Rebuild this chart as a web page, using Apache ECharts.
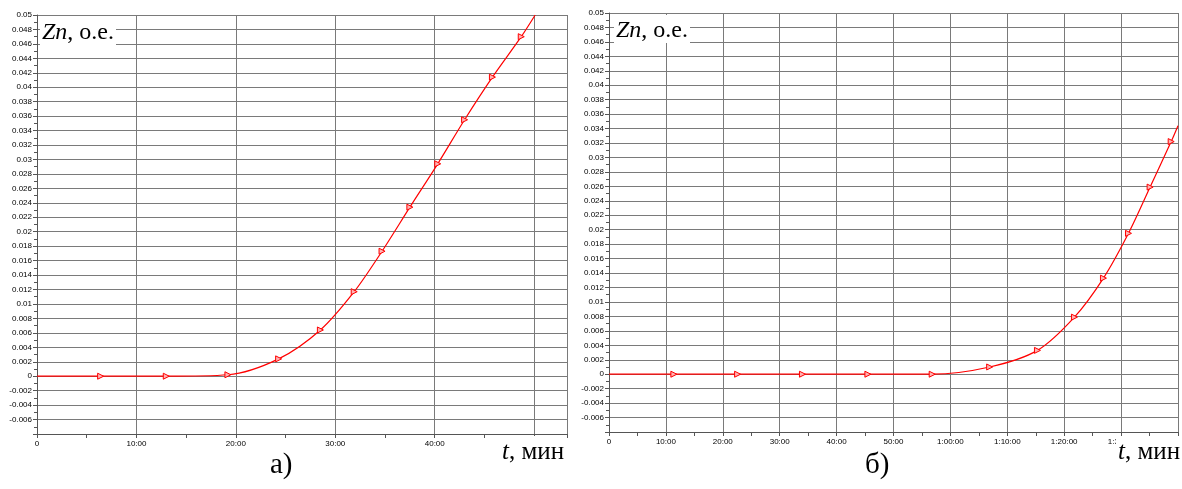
<!DOCTYPE html>
<html>
<head>
<meta charset="utf-8">
<script src="https://cdn.jsdelivr.net/npm/echarts@6/dist/echarts.min.js"></script>
<style>
html,body{margin:0;padding:0;background:#fff;}
#c{width:1182px;height:489px;}
</style>
</head>
<body>
<div id="c"></div>
<script>
// ---- data (minutes, Zn in о.е.) ----
// chart а)
const markT_A = [6.4, 13.0, 19.2, 24.3, 28.5, 31.9, 34.7, 37.5, 40.3, 43.0, 45.8, 48.7];
const markZ_A = [0, 0, 0.0002, 0.0024, 0.0064, 0.0117, 0.0173, 0.0234, 0.0294, 0.0355, 0.0414, 0.047];
const startA = [0, 0];
const endA = [50.1, 0.05];
const xMaxA = 53.3;
// chart б)
const markT_B = [11.4, 22.6, 34.0, 45.5, 56.8, 66.9, 75.3, 81.8, 86.9, 91.3, 95.1, 98.8];
const markZ_B = [0, 0, 0, 0, 0, 0.001, 0.0033, 0.0079, 0.0133, 0.0195, 0.0259, 0.0322];
const startB = [0, 0];
const endB = [100, 0.0344];
const xMaxB = 100;
// axes
const yMin = -0.008, yMax = 0.05, yStep = 0.002;
const xStep = 10;
const yTitle = ['Zn', ', о.е.'];
const xTitle = ['t', ', мин'];
const panelLabels = ['а)', 'б)'];

function buildData(start, ts, zs, end) {
  const d = [{value: start, symbol: 'none'}];
  ts.forEach((t, i) => d.push({value: [t, zs[i]]}));
  d.push({value: end, symbol: 'none'});
  return d;
}

function fmtTime(v) {
  if (v === 0) return '0';
  const h = Math.floor(v / 60), m = Math.round(v % 60);
  const mm = (m < 10 ? '0' : '') + m;
  return h > 0 ? h + ':' + mm + ':00' : m + ':00';
}
function fmtY(v) { return String(+v.toFixed(3)); }

const gridCol = '#7a7a7a';
const axisFont = {fontFamily: 'Liberation Sans, Arial, sans-serif', fontSize: 8, color: '#000'};

function xAx(gi, max) {
  return {
    type: 'value', gridIndex: gi, min: 0, max: max, interval: xStep,
    axisLine: {show: true, onZero: false, lineStyle: {color: '#555', width: 1}},
    axisTick: {show: true, length: 4, lineStyle: {color: '#555'}},
    minorTick: {show: true, splitNumber: 2, length: 4, lineStyle: {color: '#555'}},
    splitLine: {show: true, lineStyle: {color: gridCol, width: 1}},
    axisLabel: Object.assign({margin: 6, formatter: fmtTime, showMaxLabel: false}, axisFont)
  };
}
function yAx(gi) {
  return {
    type: 'value', gridIndex: gi, min: yMin, max: yMax, interval: yStep,
    axisLine: {show: true, lineStyle: {color: '#555', width: 1}},
    axisTick: {show: true, length: 4, lineStyle: {color: '#555'}},
    minorTick: {show: true, splitNumber: 2, length: 3, lineStyle: {color: '#555'}},
    splitLine: {show: true, lineStyle: {color: gridCol, width: 1}},
    axisLabel: Object.assign({margin: 5, formatter: fmtY, showMinLabel: false}, axisFont)
  };
}
function ser(idx, data) {
  return {
    type: 'line', xAxisIndex: idx, yAxisIndex: idx, data: data,
    smooth: 0.3,
    symbol: 'triangle', symbolSize: 6, symbolRotate: -90,
    showAllSymbol: true,
    lineStyle: {color: '#ff0000', width: 1.2},
    itemStyle: {color: '#ffb3b3', borderColor: '#ff0000', borderWidth: 1},
    z: 5, animation: false
  };
}

const serif = 'Liberation Serif, Times New Roman, serif';
function titleText(x, y, parts, size) {
  return {
    type: 'text', left: x, top: y, z: 100,
    style: {
      text: '{i|' + parts[0] + '}{n|' + parts[1] + '}',
      backgroundColor: '#fff', padding: [4, 2, 0, 2],
      rich: {
        i: {fontFamily: serif, fontStyle: 'italic', fontSize: size, fill: '#000'},
        n: {fontFamily: serif, fontSize: size, fill: '#000'}
      }
    }
  };
}

const chart = echarts.init(document.getElementById('c'), null, {renderer: 'canvas'});
chart.setOption({
  backgroundColor: '#fff',
  animation: false,
  grid: [
    {left: 37, right: 615, top: 15, bottom: 55},
    {left: 609, right: 4, top: 13, bottom: 57}
  ],
  xAxis: [xAx(0, xMaxA), xAx(1, xMaxB)],
  yAxis: [yAx(0), yAx(1)],
  series: [
    ser(0, buildData(startA, markT_A, markZ_A, endA)),
    ser(1, buildData(startB, markT_B, markZ_B, endB))
  ],
  graphic: [
    titleText(40, 17, yTitle, 24),
    titleText(614, 15, yTitle, 24),
    titleText(500, 436, xTitle, 25),
    titleText(1116, 436, xTitle, 25),
    {type: 'text', left: 270, top: 451, style: {text: panelLabels[0], fontFamily: serif, fontSize: 29, fill: '#000'}},
    {type: 'text', left: 865, top: 451, style: {text: panelLabels[1], fontFamily: serif, fontSize: 29, fill: '#000'}}
  ]
});
</script>
</body>
</html>
